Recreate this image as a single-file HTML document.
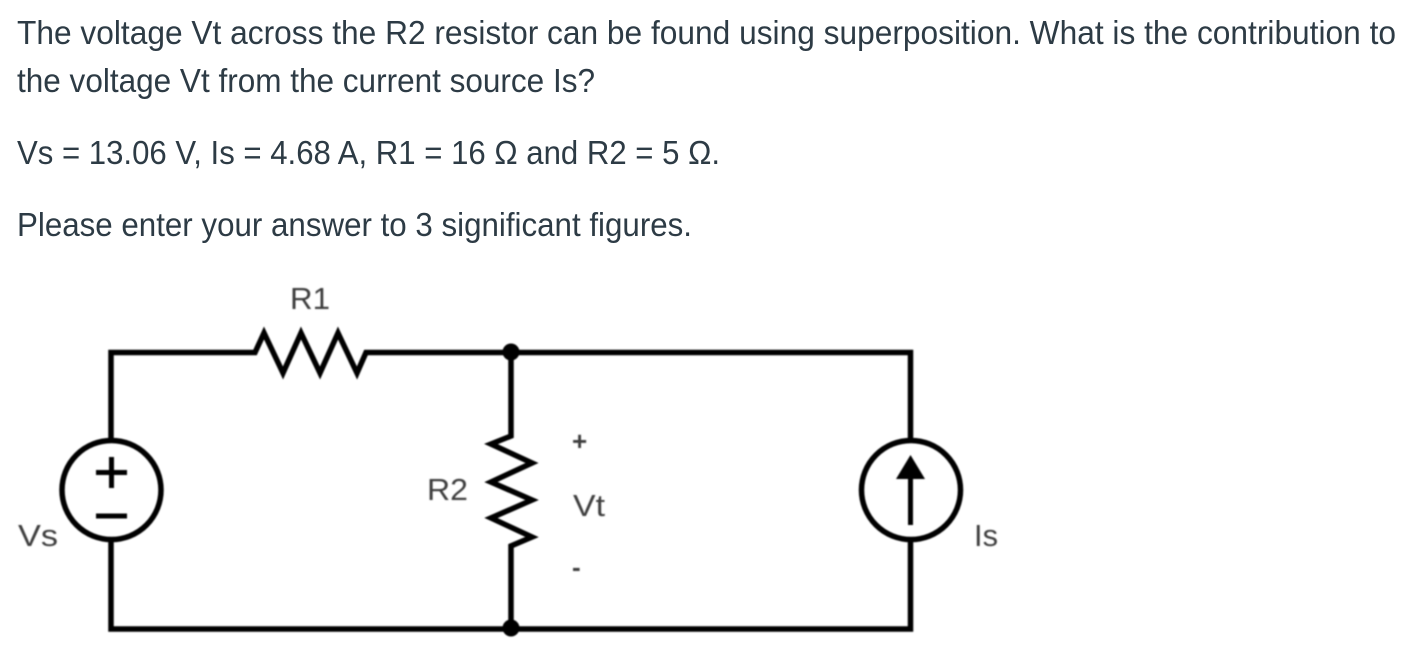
<!DOCTYPE html>
<html>
<head>
<meta charset="utf-8">
<style>
html,body{margin:0;padding:0;background:#fff;width:1422px;height:658px;overflow:hidden}
svg{display:block}
.q{font-family:"Liberation Sans",sans-serif;font-size:33px;fill:#2d3b45}
.l{font-family:"Liberation Sans",sans-serif;font-size:31px;fill:#3c3c3c}
</style>
</head>
<body>
<svg width="1422" height="658" viewBox="0 0 1422 658" xmlns="http://www.w3.org/2000/svg">
<defs><filter id="b" x="-5%" y="-5%" width="110%" height="110%"><feGaussianBlur stdDeviation="0.9"/></filter></defs>
<text class="q" x="17" y="44" textLength="1379" lengthAdjust="spacingAndGlyphs">The voltage Vt across the R2 resistor can be found using superposition. What is the contribution to</text>
<text class="q" x="17" y="92" textLength="578" lengthAdjust="spacingAndGlyphs">the voltage Vt from the current source Is?</text>
<text class="q" x="17" y="164" textLength="703" lengthAdjust="spacingAndGlyphs">Vs = 13.06 V, Is = 4.68 A, R1 = 16 Ω and R2 = 5 Ω.</text>
<text class="q" x="17" y="236" textLength="675" lengthAdjust="spacingAndGlyphs">Please enter your answer to 3 significant figures.</text>
<g filter="url(#b)">
<g fill="none" stroke="#000" stroke-width="5.5" stroke-linejoin="miter" stroke-linecap="butt">
<path d="M111 440V352.5H255L264 333L283 373L301 333L320 373L338 333L357 373L366 352.5H910.5V440"/>
<path d="M111 540V629H910.5V540"/>
<path d="M511 352V436L491 444L532 463L491 482L532 500L491 518L532 537L511 546V629"/>
<circle cx="111.5" cy="490" r="49.5"/>
<circle cx="911" cy="490" r="49.5"/>
<path d="M96 472.5H127M111.5 457V488M96 516H127" stroke-width="5"/>
<path d="M910.5 475V525" stroke-width="5"/>
</g>
<path d="M910.5 455L925 479H896Z" fill="#000"/>
<circle cx="511" cy="352" r="8.5" fill="#000"/>
<circle cx="511" cy="628" r="8.5" fill="#000"/>
<text class="l" x="290" y="309" textLength="40" lengthAdjust="spacingAndGlyphs">R1</text>
<text class="l" x="427" y="500" textLength="41" lengthAdjust="spacingAndGlyphs">R2</text>
<text class="l" x="18" y="546" textLength="40" lengthAdjust="spacingAndGlyphs">Vs</text>
<text class="l" x="573" y="516" textLength="32" lengthAdjust="spacingAndGlyphs">Vt</text>
<text class="l" x="974" y="546" textLength="24" lengthAdjust="spacingAndGlyphs">Is</text>
<text class="l" x="572" y="450" style="font-size:26px;font-weight:bold">+</text>
<text class="l" x="572" y="576" style="font-size:26px;font-weight:bold">-</text>
</g>
</svg>
</body>
</html>
